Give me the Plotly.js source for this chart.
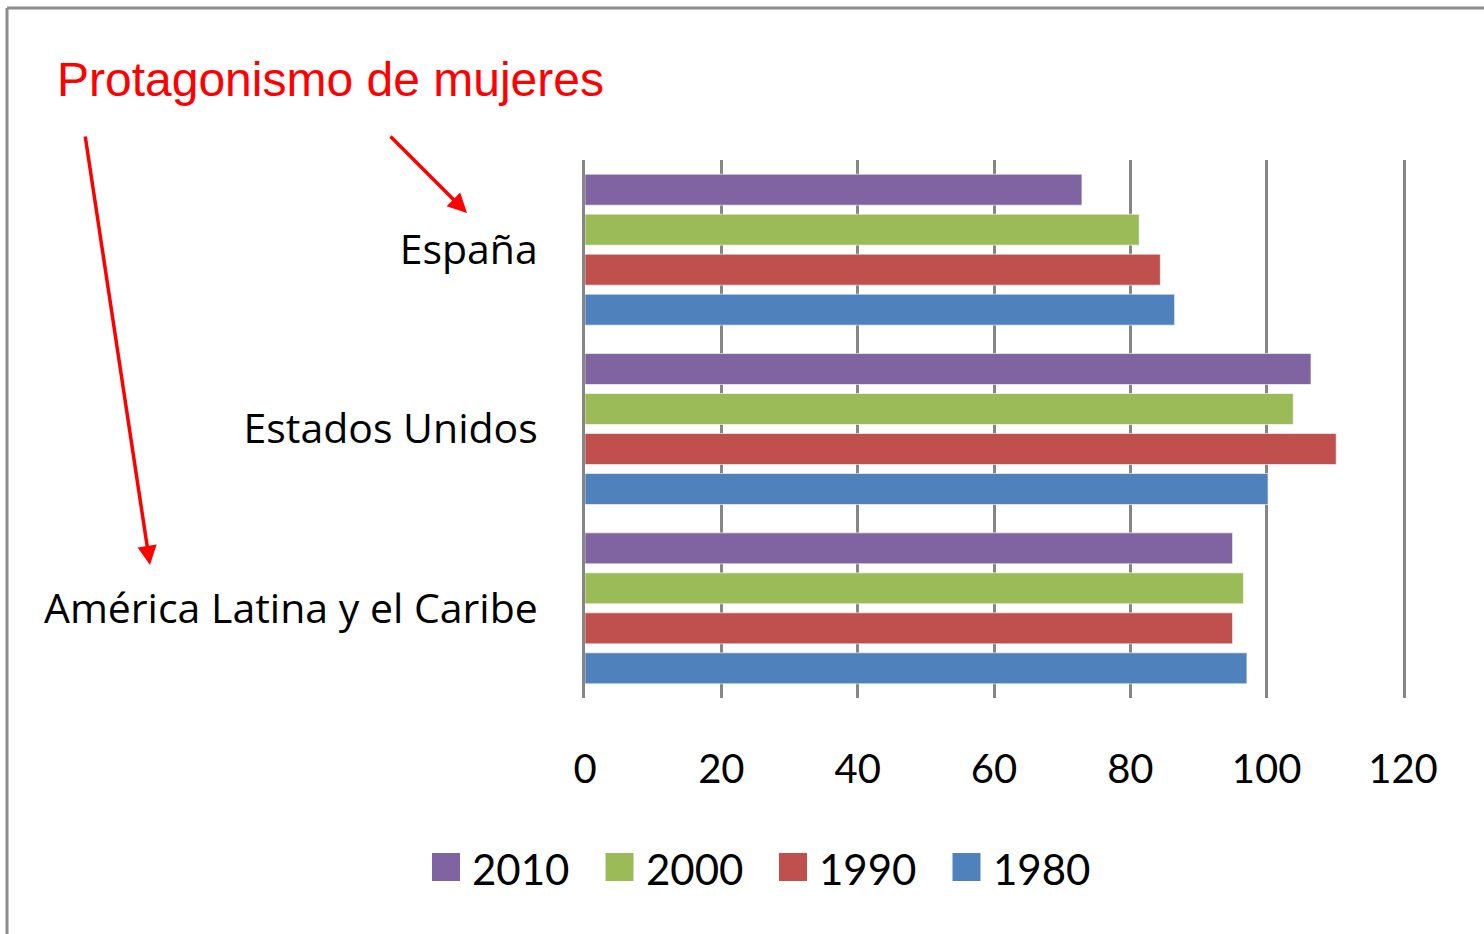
<!DOCTYPE html>
<html>
<head>
<meta charset="utf-8">
<script src="https://cdn.plot.ly/plotly-3.0.1.min.js"></script>
<style>
  html, body { margin: 0; padding: 0; background: #fff; }
  #plot { width: 1484px; height: 934px; }
</style>
</head>
<body>
<div id="plot"></div>
<script>
// categories bottom -> top
var regions = ['América Latina y el Caribe', 'Estados Unidos', 'España'];
var years = ['1980', '1990', '2000', '2010'];
var colors = ['#4F81BD', '#C0504D', '#9BBB59', '#8064A2'];

var v1980 = [97.1, 100.2, 86.5];
var v1990 = [95.0, 110.2, 84.4];
var v2000 = [96.6, 103.9, 81.3];
var v2010 = [95.0, 106.5, 72.9];
var values = [v1980, v1990, v2000, v2010];

var xTicks = [0, 20, 40, 60, 80, 100, 120];

// page layout in pixels
var W = 1484, H = 934;
var L = 585, R = 81, T = 160, B = 236;
var plotW = W - L - R, plotH = H - T - B;
function px(x) { return (x - L) / plotW; }
function py(y) { return (H - B - y) / plotH; }

var data = years.map(function (yr, i) {
  return {
    type: 'bar',
    orientation: 'h',
    name: yr,
    y: regions,
    x: values[i],
    marker: { color: colors[i], line: { color: 'rgba(255,255,255,0.6)', width: 1 } },
    showlegend: false,
    hoverinfo: 'x+name'
  };
});

var shapes = [
  // outer frame
  { type: 'line', xref: 'paper', yref: 'paper', x0: px(7), x1: px(7), y0: py(8), y1: py(960),
    line: { color: '#8c8c8c', width: 3 } },
  { type: 'line', xref: 'paper', yref: 'paper', x0: px(7), x1: px(1500), y0: py(8), y1: py(8),
    line: { color: '#8c8c8c', width: 3 } }
];

var annotations = [
  { xref: 'paper', yref: 'paper', x: px(55), y: py(80), xanchor: 'left', yanchor: 'middle',
    text: 'Protagonismo de mujeres', showarrow: false,
    font: { family: 'Liberation Sans, Arial, sans-serif', size: 48, color: '#ff0000' } },
  { xref: 'paper', yref: 'paper', x: px(150), y: py(565), text: '', showarrow: true,
    ax: -65, ay: -430, arrowcolor: '#ff0000', arrowwidth: 3.5, arrowhead: 2, arrowsize: 1.1 },
  { xref: 'paper', yref: 'paper', x: px(467), y: py(213), text: '', showarrow: true,
    ax: -78, ay: -78, arrowcolor: '#ff0000', arrowwidth: 3.5, arrowhead: 2, arrowsize: 1.1 }
];

// legend drawn by hand (top-most bar first)
for (var k = 0; k < years.length; k++) {
  var i = years.length - 1 - k;
  var sx = 432 + k * 173.5;
  shapes.push({ type: 'rect', xref: 'paper', yref: 'paper',
    x0: px(sx), x1: px(sx + 28), y0: py(881), y1: py(853),
    fillcolor: colors[i], line: { width: 0 } });
  annotations.push({ xref: 'paper', yref: 'paper', x: px(sx + 38), y: py(869),
    xanchor: 'left', yanchor: 'middle', text: years[i], showarrow: false,
    font: { family: 'Lato, sans-serif', size: 42, color: '#000' } });
}

var layout = {
  width: W, height: H,
  margin: { l: L, r: R, t: T, b: B, pad: 0 },
  paper_bgcolor: '#fff', plot_bgcolor: '#fff',
  barmode: 'group',
  bargap: 0.108,
  bargroupgap: 0.225,
  showlegend: false,
  font: { family: 'Lato, sans-serif', color: '#000' },
  xaxis: {
    range: [0, 120],
    tickvals: xTicks,
    showgrid: true, gridcolor: '#868686', gridwidth: 3,
    zeroline: false, showline: false,
    ticks: '', ticklabelstandoff: 44,
    tickfont: { family: 'Lato, sans-serif', size: 40, color: '#000' },
    fixedrange: true
  },
  yaxis: {
    type: 'category',
    showgrid: false, zeroline: false,
    showline: true, linecolor: '#868686', linewidth: 3, mirror: true,
    ticks: '', ticklabelstandoff: 36,
    tickfont: { family: 'Open Sans, sans-serif', size: 41, color: '#000' },
    fixedrange: true
  },
  shapes: shapes,
  annotations: annotations
};

Plotly.newPlot('plot', data, layout, { displayModeBar: false, staticPlot: true });
</script>
</body>
</html>
